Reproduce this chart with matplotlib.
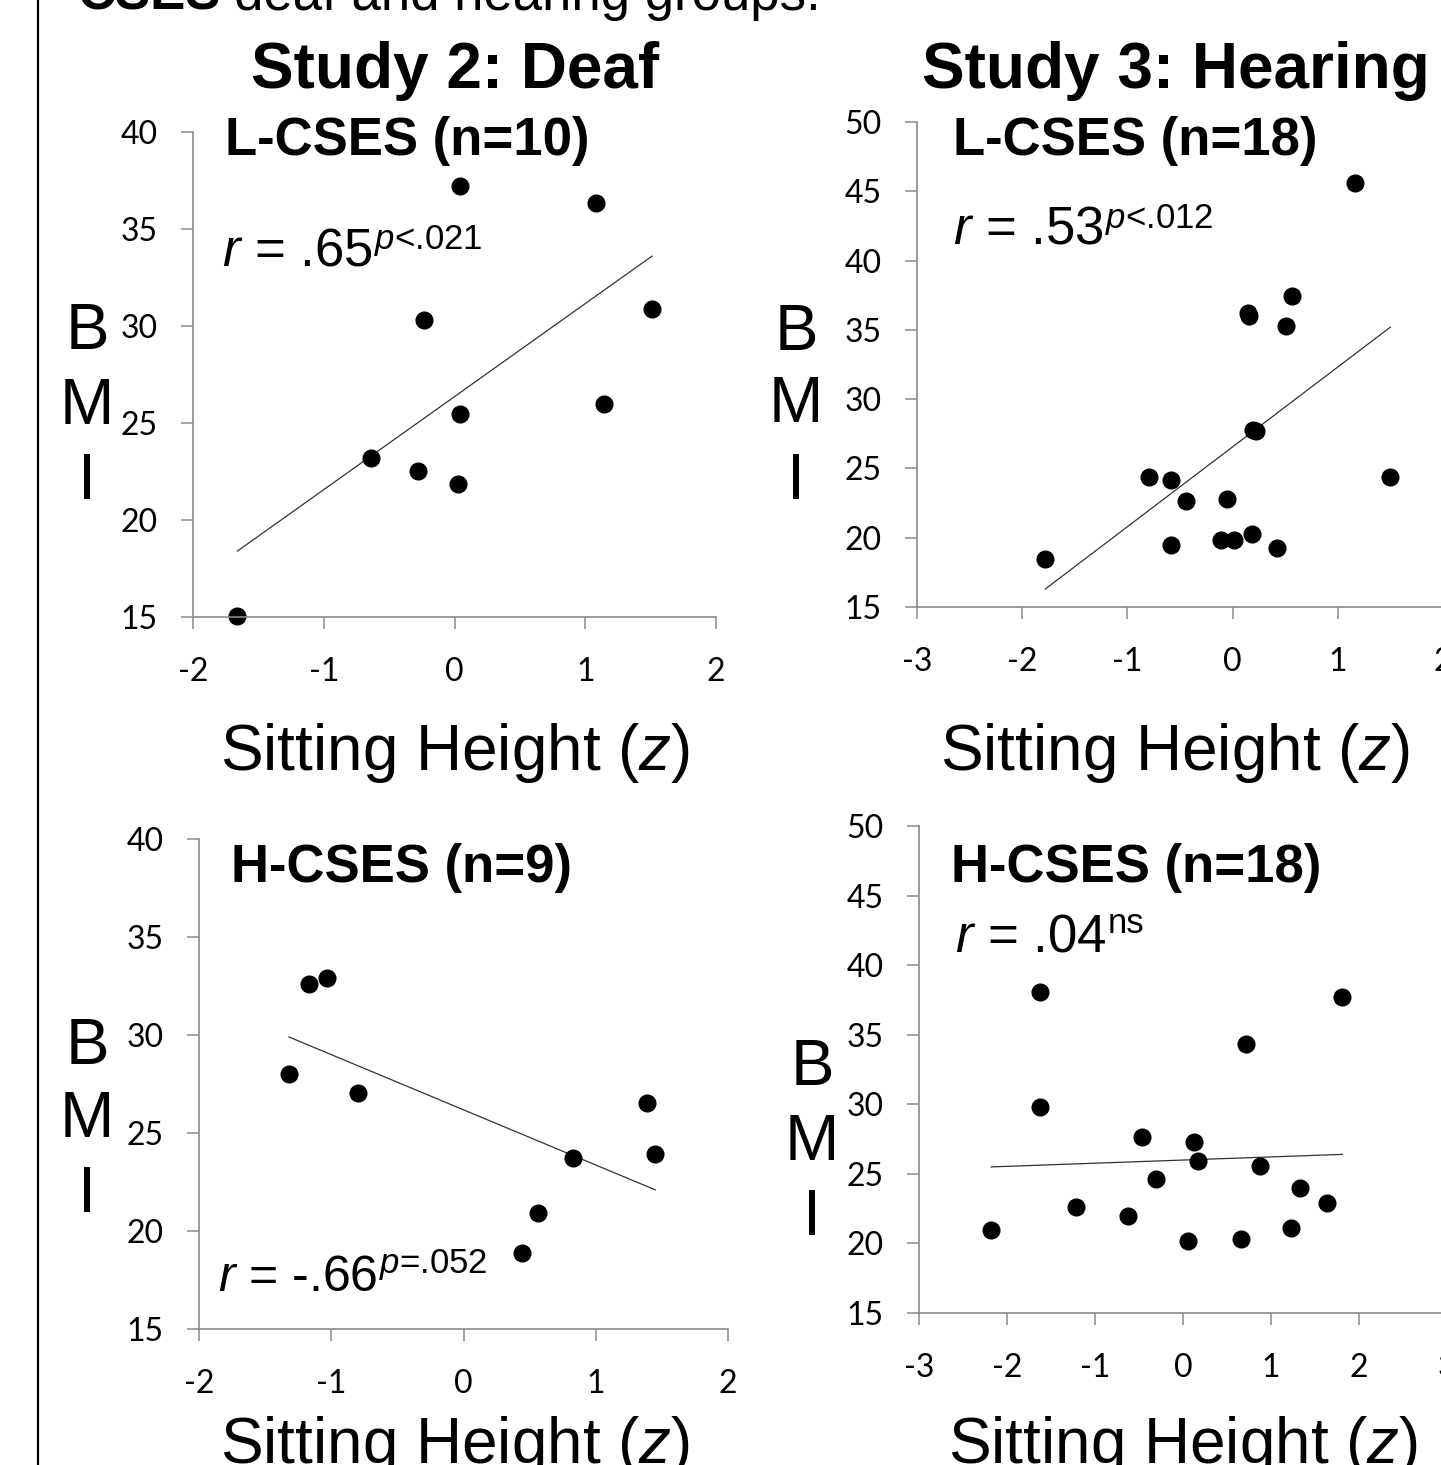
import matplotlib
matplotlib.use("Agg")
import matplotlib.pyplot as plt
from matplotlib.lines import Line2D

W, H = 1441, 1465

plt.rcParams["font.family"] = "Liberation Sans"
plt.rcParams["axes.unicode_minus"] = False
plt.rcParams["mathtext.fontset"] = "custom"
plt.rcParams["mathtext.rm"] = "Liberation Sans"
plt.rcParams["mathtext.it"] = "Liberation Sans:italic"
plt.rcParams["mathtext.bf"] = "Liberation Sans:bold"

# Study 2 (deaf), L-CSES
deaf_l_x = [-1.66, -0.64, -0.28, -0.23, 0.04, 0.04, 0.03, 1.08, 1.14, 1.51]
deaf_l_y = [15.05, 23.2, 22.5, 30.3, 37.2, 25.45, 21.85, 36.35, 26.0, 30.9]
deaf_l_fit = [18.4, 33.6]

# Study 3 (hearing), L-CSES
hear_l_x = [-1.78, -0.79, -0.59, -0.44, -0.59, -0.05, -0.11, 0.01, 0.18, 0.42,
            0.15, 0.16, 0.51, 0.56, 0.19, 0.22, 1.16, 1.50]
hear_l_y = [18.5, 24.35, 24.2, 22.65, 19.5, 22.8, 19.8, 19.85, 20.3, 19.25,
            36.2, 36.0, 35.3, 37.45, 27.8, 27.7, 45.6, 24.4]
hear_l_fit = [16.3, 35.2]

# Study 2 (deaf), H-CSES
deaf_h_x = [-1.32, -1.17, -1.03, -0.80, 0.44, 0.56, 0.83, 1.39, 1.45]
deaf_h_y = [28.0, 32.6, 32.9, 27.05, 18.9, 20.9, 23.75, 26.55, 23.95]
deaf_h_fit = [29.9, 22.1]

# Study 3 (hearing), H-CSES
hear_h_x = [-2.18, -1.63, -1.63, -1.22, -0.63, -0.47, -0.31, 0.06, 0.12, 0.17,
            0.66, 0.72, 0.88, 1.23, 1.33, 1.64, 1.81]
hear_h_y = [21.0, 38.1, 29.8, 22.6, 21.95, 27.65, 24.65, 20.2, 27.3, 25.9,
            20.3, 34.35, 25.6, 21.1, 24.0, 22.9, 37.7]
hear_h_fit = [25.5, 26.4]

# correlation labels: (main text, superscript)
corr_labels = [
    (r"$\mathit{r}$ = .65", r"$\mathit{p}$<.021"),
    (r"$\mathit{r}$ = .53", r"$\mathit{p}$<.012"),
    (r"$\mathit{r}$ = -.66", r"$\mathit{p}$=.052"),
    (r"$\mathit{r}$ = .04", "ns"),
]


def fx(px):
    return px / W


def fy(py):
    return 1 - py / H


fig = plt.figure(figsize=(W / 100, H / 100), dpi=100)


def panel(box, xlim, ylim, xs, ys, fit):
    """box = (left px, right px, bottom px, top px) of the data limits."""
    x0, x1, y0, y1 = box
    ax = fig.add_axes([fx(x0), fy(y0), fx(x1) - fx(x0), fy(y1) - fy(y0)])
    ax.set_xlim(*xlim)
    ax.set_ylim(*ylim)
    ax.set_xticks(range(xlim[0], xlim[1] + 1))
    ax.set_yticks(range(ylim[0], ylim[1] + 1, 5))
    for s in ("top", "right"):
        ax.spines[s].set_visible(False)
    for s in ("left", "bottom"):
        ax.spines[s].set_color("#8a8a8a")
        ax.spines[s].set_linewidth(1.2)
        ax.spines[s].set_clip_on(False)
    ax.tick_params(direction="out", length=8.5, width=1.1, color="#8a8a8a",
                   labelsize=23)
    ax.tick_params(axis="x", pad=20)
    ax.tick_params(axis="y", pad=17)
    for lab in ax.get_xticklabels() + ax.get_yticklabels():
        lab.set_fontfamily("Lato")
    ax.patch.set_alpha(0)
    ax.plot([min(xs), max(xs)], fit, color="#333333", lw=0.9, clip_on=False)
    ax.plot(xs, ys, "o", color="black", ms=12, mec="black", clip_on=False)
    return ax


panel((193, 716, 617, 132), (-2, 2), (15, 40), deaf_l_x, deaf_l_y, deaf_l_fit)
panel((917, 1443, 607, 122), (-3, 2), (15, 50), hear_l_x, hear_l_y, hear_l_fit)
panel((199, 728, 1329, 839), (-2, 2), (15, 40), deaf_h_x, deaf_h_y, deaf_h_fit)
panel((919, 1447, 1313, 826), (-3, 3), (15, 50), hear_h_x, hear_h_y, hear_h_fit)


def txt(px, py, s, size, **kw):
    kw.setdefault("ha", "left")
    kw.setdefault("va", "baseline")
    return fig.text(fx(px), fy(py), s, fontsize=size, **kw)


# cut-off line of slide text at the top
txt(78, 10, "CSES", 38, weight="bold")
txt(234, 10, "deaf and hearing groups.", 38)

# study headings
txt(251, 88, "Study 2: Deaf", 46, weight="bold")
txt(922, 88, "Study 3: Hearing", 46, weight="bold")

# panel titles
txt(225, 155, "L-CSES (n=10)", 38, weight="bold")
txt(953, 155, "L-CSES (n=18)", 38, weight="bold")
txt(231, 882, "H-CSES (n=9)", 38, weight="bold")
txt(951, 882, "H-CSES (n=18)", 38, weight="bold")

# correlations, superscript placed right after the main text
renderer = fig.canvas.get_renderer()
corr_pos = [(222, 265, 249), (953, 243, 228), (218, 1291, 1273), (955, 952, 933)]
for (main, sup), (px, base, sup_base) in zip(corr_labels, corr_pos):
    size = 36 if "-" in main else 38
    t = txt(px, base, main, size)
    right = t.get_window_extent(renderer).x1
    txt(right + 1, sup_base, sup, 25)

# x axis labels
for cx, by in [(455, 770), (1175, 770), (455, 1463), (1183, 1463)]:
    txt(cx, by, r"Sitting Height ($\mathit{z}$)", 46, ha="center")

# stacked BMI labels
for cx, ys in [(87, (332, 407, 482)), (796, (333, 405, 482)),
               (87, (1047, 1120, 1195)), (812, (1068, 1143, 1218))]:
    for ch, cy in zip("BMI", ys):
        txt(cx, cy, ch, 47, ha="center", va="center")

# slide border at left
fig.add_artist(Line2D([fx(38), fx(38)], [0, 1], color="black", lw=1.6))

fig.savefig("out.png", dpi=100)
